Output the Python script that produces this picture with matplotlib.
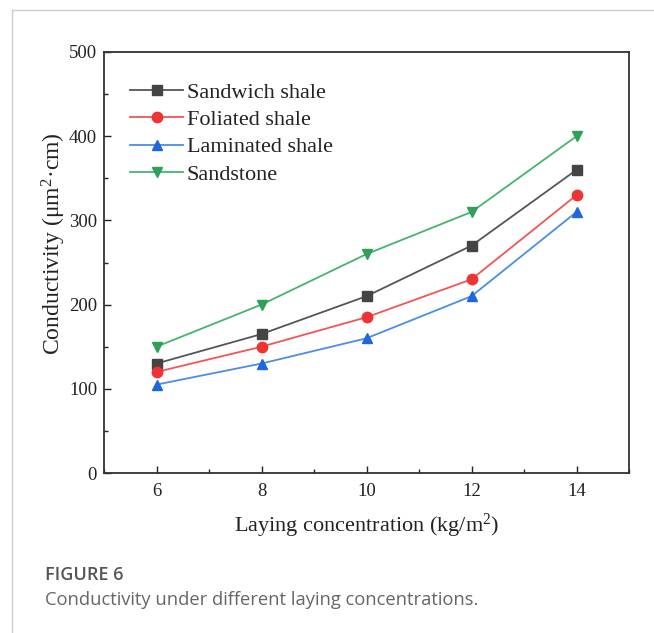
import matplotlib
matplotlib.use("Agg")
import matplotlib.pyplot as plt
from matplotlib.ticker import MultipleLocator
from matplotlib.lines import Line2D

x = [6, 8, 10, 12, 14]
sandwich = [130, 165, 210, 270, 360]
foliated = [120, 150, 185, 230, 330]
laminated = [105, 130, 160, 210, 310]
sandstone = [150, 200, 260, 310, 400]
labels = ["Sandwich shale", "Foliated shale", "Laminated shale", "Sandstone"]

plt.rcParams['font.family'] = ['Liberation Serif', 'DejaVu Serif']
plt.rcParams['mathtext.fontset'] = 'custom'
plt.rcParams['mathtext.rm'] = 'Liberation Serif'
plt.rcParams['mathtext.it'] = 'Liberation Serif:italic'

fig = plt.figure(figsize=(6.54, 6.33), dpi=100)
ax = fig.add_axes([104/654, 1-473/633, (629-104)/654, (473-52)/633])

styles = [
    (sandwich, '#555555', '#444444', 's', 7),
    (foliated, '#f25555', '#ee3333', 'o', 7.5),
    (laminated, '#4a8ee6', '#1f66e0', '^', 7.5),
    (sandstone, '#44b46e', '#2ea05a', 'v', 7.5),
]
for (vals, lc, mc, m, ms), lab in zip(styles, labels):
    ax.plot(x, vals, color=lc, lw=1.3, marker=m, markersize=ms,
            markerfacecolor=mc, markeredgecolor=mc, label=lab)

ax.set_xlim(5, 15)
ax.set_ylim(0, 500)
ax.xaxis.set_major_locator(MultipleLocator(2))
ax.xaxis.set_minor_locator(MultipleLocator(1))
ax.yaxis.set_major_locator(MultipleLocator(100))
ax.yaxis.set_minor_locator(MultipleLocator(50))
ax.tick_params(which='both', direction='in', top=False, right=False, labelsize=13.5, colors='#222222')
ax.tick_params(which='major', length=5, width=1)
ax.tick_params(which='minor', length=3, width=1)
ax.tick_params(axis='x', pad=7)
ax.tick_params(axis='y', pad=5)
for s in ax.spines.values():
    s.set_linewidth(1.3)
    s.set_color('#333333')

ax.set_xlabel(r'Laying concentration (kg/m$^{2}$)', fontsize=16, labelpad=9, color='#222222')
ax.set_ylabel('Conductivity (\u03bcm$^{2}$\u00b7cm)', fontsize=17, color='#222222')
ax.yaxis.set_label_coords(-0.068, 0.546)

leg = ax.legend(loc='upper left', bbox_to_anchor=(0.02, 0.965), frameon=False,
                fontsize=16, handlelength=2.4, handletextpad=0.15, labelspacing=0.3,
                borderaxespad=0.3)
for t in leg.get_texts():
    t.set_color('#222222')

# frame lines
fig.add_artist(Line2D([12/654, 1], [1-10/633, 1-10/633], color='#cccccc', lw=1, transform=fig.transFigure))
fig.add_artist(Line2D([12/654, 12/654], [0, 1-10/633], color='#cccccc', lw=1, transform=fig.transFigure))

fig.text(45/654, 1-575/633, 'FIGURE 6', fontsize=13, color='#555555', weight='semibold',
         family=['Open Sans', 'DejaVu Sans'], va='center')
fig.text(45/654, 1-600/633, 'Conductivity under different laying concentrations.', fontsize=13.2,
         color='#666666', family=['Open Sans', 'DejaVu Sans'], va='center')

fig.savefig('out.png', dpi=100)
